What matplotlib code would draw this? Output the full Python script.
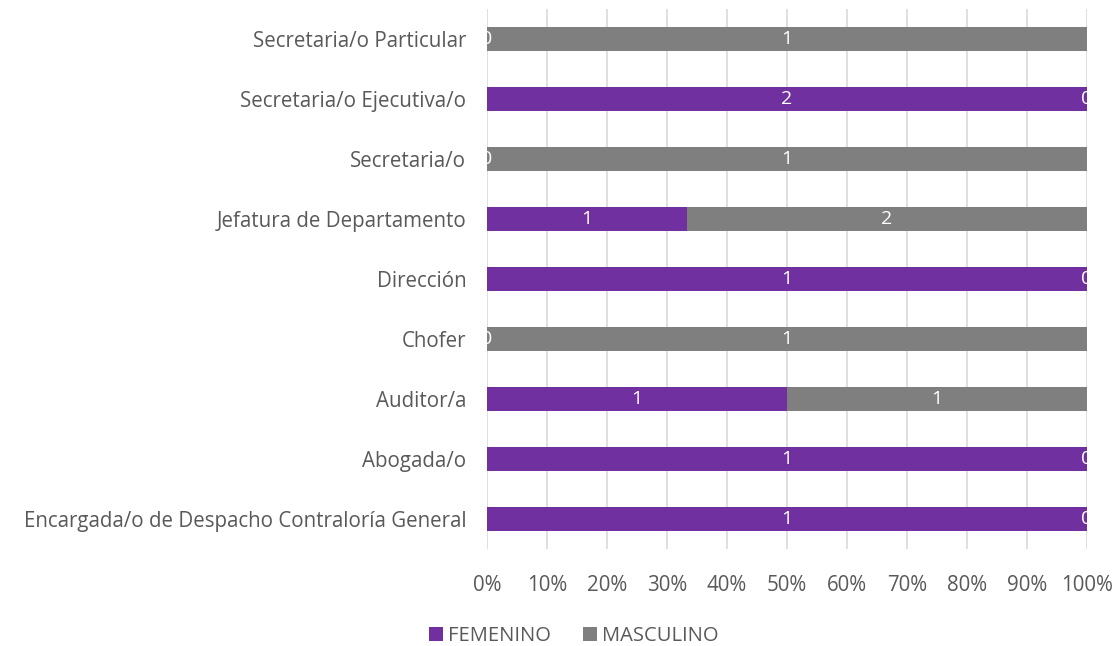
import matplotlib
matplotlib.use("Agg")
import matplotlib.pyplot as plt
import numpy as np

categories = ["Encargada/o de Despacho Contraloría General", "Abogada/o", "Auditor/a",
              "Chofer", "Dirección", "Jefatura de Departamento", "Secretaria/o",
              "Secretaria/o Ejecutiva/o", "Secretaria/o Particular"]
femenino = [1, 1, 1, 0, 1, 1, 0, 2, 0]
masculino = [0, 0, 1, 1, 0, 2, 1, 0, 1]
ticks = [0, 10, 20, 30, 40, 50, 60, 70, 80, 90, 100]

plt.rcParams['font.family'] = ['Open Sans', 'DejaVu Sans']
fig = plt.figure(figsize=(11.16, 6.46), dpi=100)
ax = fig.add_axes([0.4364, 0.150, 0.5376, 0.836])

f = np.array(femenino, float)
m = np.array(masculino, float)
tot = f + m
fp = f / tot * 100
mp = m / tot * 100
y = np.arange(len(categories))
purple = "#7030A0"
gray = "#7F7F7F"
ax.barh(y, fp, height=0.4, color=purple, label="FEMENINO", zorder=2)
ax.barh(y, mp, left=fp, height=0.4, color=gray, label="MASCULINO", zorder=2)
for i in range(len(categories)):
    ax.text(fp[i] / 2, y[i], str(femenino[i]), color="white", ha="center", va="center", fontsize=14, zorder=3)
    ax.text(fp[i] + mp[i] / 2, y[i], str(masculino[i]), color="white", ha="center", va="center", fontsize=14, zorder=3)

ax.set_xlim(0, 100)
ax.set_ylim(-0.5, len(categories) - 0.5)
ax.set_xticks(ticks)
ax.set_xticklabels([f"{t}%" for t in ticks])
ax.set_yticks(y)
ax.set_yticklabels(categories)
ax.tick_params(axis="both", length=0, labelsize=14.8, labelcolor="#595959")
ax.tick_params(axis="x", pad=19)
ax.tick_params(axis="y", pad=15)
ax.grid(axis="x", color="#D9D9D9", linewidth=1.2, zorder=0)
ax.set_axisbelow(True)
for s in ax.spines.values():
    s.set_visible(False)

fig.legend(loc="center", bbox_to_anchor=(0.514, 0.016), ncol=2, frameon=False,
           fontsize=14.5, labelcolor="#595959", handlelength=0.7, handleheight=0.7,
           handletextpad=0.25, columnspacing=1.6)
fig.savefig("out.png", dpi=100)
